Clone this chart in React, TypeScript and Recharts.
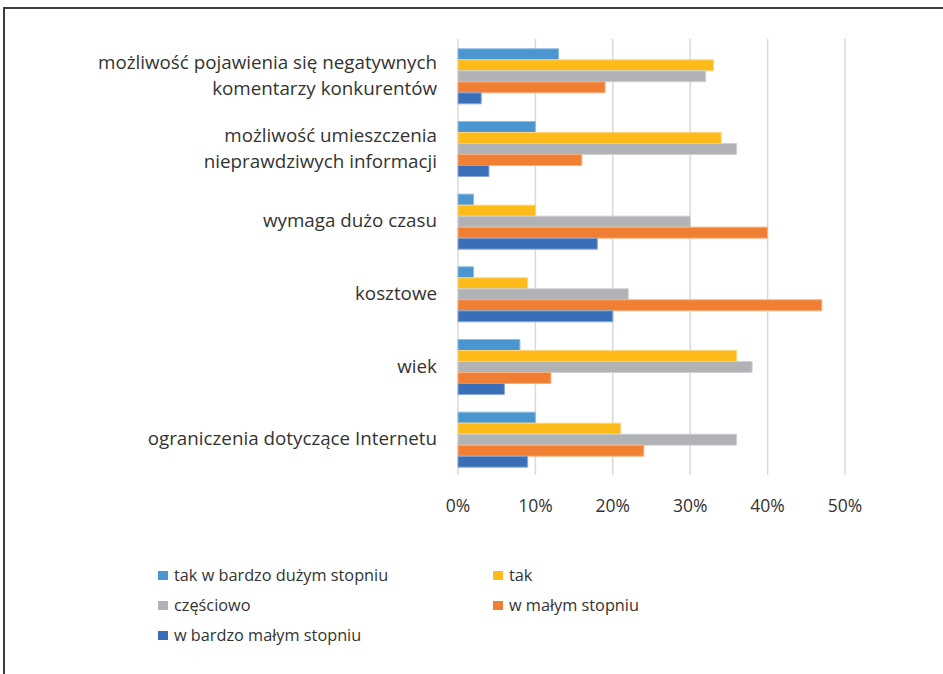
import React from 'react';
import { BarChart, Bar, XAxis, YAxis, CartesianGrid, Legend } from 'recharts';

// categories, top to bottom; "\n" marks where the label wraps
const categories = [
  'możliwość pojawienia się negatywnych\nkomentarzy konkurentów',
  'możliwość umieszczenia\nnieprawdziwych informacji',
  'wymaga dużo czasu',
  'kosztowe',
  'wiek',
  'ograniczenia dotyczące Internetu',
];

// answer shares in %
const takBardzoDuzym = [13, 10, 2, 2, 8, 10];
const tak = [33, 34, 10, 9, 36, 21];
const czesciowo = [32, 36, 30, 22, 38, 36];
const wMalym = [19, 16, 40, 47, 12, 24];
const wBardzoMalym = [3, 4, 18, 20, 6, 9];

const xTicks = [0, 10, 20, 30, 40, 50];

const series = [
  { key: 'a', name: 'tak w bardzo dużym stopniu', values: takBardzoDuzym, fill: '#4A96D0', stroke: '#8DBDE3' },
  { key: 'b', name: 'tak', values: tak, fill: '#FDBB1A', stroke: '#FED57A' },
  { key: 'c', name: 'częściowo', values: czesciowo, fill: '#B1B2B5', stroke: '#CFD0D2' },
  { key: 'd', name: 'w małym stopniu', values: wMalym, fill: '#F07F33', stroke: '#F6AE7E' },
  { key: 'e', name: 'w bardzo małym stopniu', values: wBardzoMalym, fill: '#3A6FB8', stroke: '#88A8D6' },
];

const data = categories.map((name, i) => {
  const row: Record<string, string | number> = { name };
  series.forEach((s) => {
    row[s.key] = s.values[i];
  });
  return row;
});

const FONT = '"Open Sans", Lato, sans-serif';
const TEXT = '#333333';

const CategoryTick = (props: any) => {
  const { x, y, payload } = props;
  const lines: string[] = String(payload.value).split('\n');
  const lineH = 26;
  const start = -((lines.length - 1) * lineH) / 2;
  return (
    <text x={x} y={y} textAnchor="end" fill={TEXT} fontSize={18.8} fontFamily={FONT}>
      {lines.map((l, i) => (
        <tspan key={i} x={x} dy={i === 0 ? start + 6.5 : lineH}>
          {l}
        </tspan>
      ))}
    </text>
  );
};

const LegendBox = () => (
  <div
    style={{
      display: 'grid',
      gridTemplateColumns: '335px 260px',
      fontFamily: FONT,
      fontSize: 16.3,
      color: TEXT,
    }}
  >
    {series.map((s) => (
      <div key={s.key} style={{ display: 'flex', alignItems: 'center', height: 30 }}>
        <span style={{ width: 10, height: 9, background: s.fill, display: 'inline-block', marginRight: 6 }} />
        <span>{s.name}</span>
      </div>
    ))}
  </div>
);

export default function App() {
  return (
    <div style={{ position: 'absolute', left: 0, top: 0, width: 943, height: 674, background: '#fff' }}>
      <BarChart
        layout="vertical"
        width={943}
        height={674}
        data={data}
        margin={{ top: 39, right: 98, bottom: 169, left: 0 }}
        barCategoryGap="13.5%"
        barGap={0}
      >
        <CartesianGrid horizontal={false} stroke="#D9D9D9" strokeWidth={1.5} />
        <XAxis
          type="number"
          domain={[0, 50]}
          ticks={xTicks}
          tickFormatter={(v: number) => `${v}%`}
          axisLine={false}
          tickLine={false}
          tickSize={0}
          tickMargin={25}
          height={30}
          tick={{ fill: TEXT, fontSize: 17.5, fontFamily: FONT }}
        />
        <YAxis
          type="category"
          dataKey="name"
          width={458}
          axisLine={false}
          tickLine={false}
          tickSize={0}
          tickMargin={21}
          interval={0}
          tick={<CategoryTick />}
        />
        <Legend
          layout="horizontal"
          verticalAlign="middle"
          align="center"
          content={<LegendBox />}
          wrapperStyle={{ top: 560, left: 158, width: 620, height: 92 }}
        />
        {series.map((s) => (
          <Bar
            key={s.key}
            dataKey={s.key}
            name={s.name}
            fill={s.fill}
            stroke={s.stroke}
            strokeWidth={1}
            isAnimationActive={false}
          />
        ))}
      </BarChart>
      {/* frame: top and left edges only */}
      <div
        style={{
          position: 'absolute',
          left: 3,
          top: 7,
          width: 940,
          height: 667,
          boxSizing: 'border-box',
          borderTop: '2px solid #3c3c3c',
          borderLeft: '2px solid #3c3c3c',
          pointerEvents: 'none',
        }}
      />
    </div>
  );
}
